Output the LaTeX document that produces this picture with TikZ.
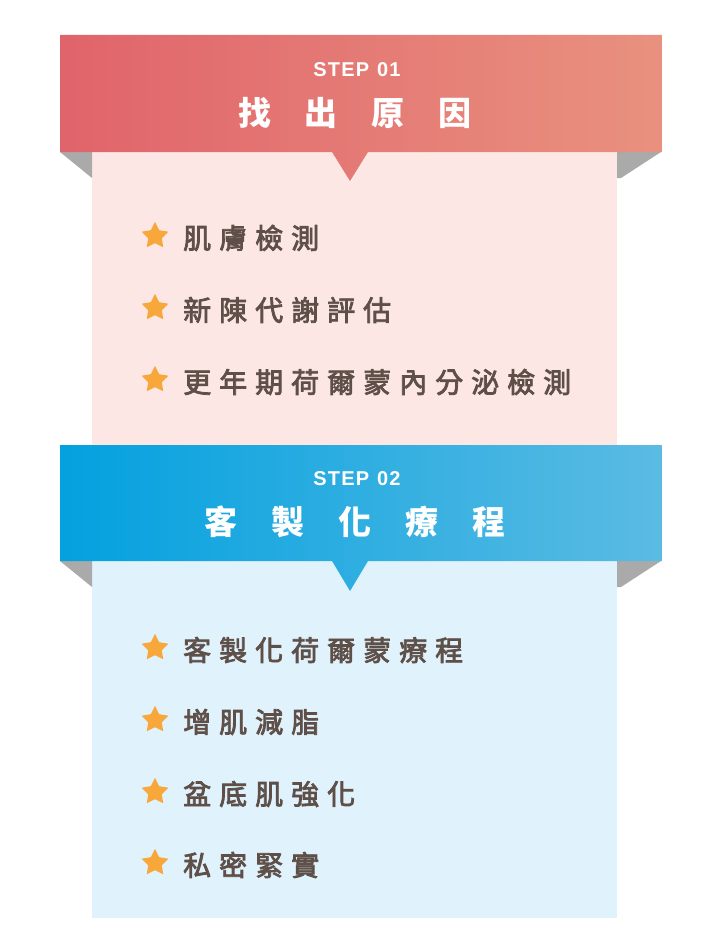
\documentclass[tikz,border=0pt]{standalone}
\usepackage{fontspec}
\setmainfont{Liberation Sans}
\newfontfamily\cjk{Noto Sans CJK TC}
\usetikzlibrary{shapes.geometric}
\definecolor{redL}{HTML}{E0646B}
\definecolor{redR}{HTML}{E9917F}
\definecolor{pinkbg}{HTML}{FCE7E5}
\definecolor{blueL}{HTML}{03A1DF}
\definecolor{blueR}{HTML}{5BBBE3}
\definecolor{bluebg}{HTML}{E0F2FB}
\definecolor{foldgray}{HTML}{AAAAAA}
\definecolor{txtc}{HTML}{5E5049}
\definecolor{starc}{HTML}{F8A73A}
\newlength\lsgap
\def\spacedtext#1{\spacedA#1\relax}
\def\spacedA#1{\ifx#1\relax\else #1\expandafter\spacedB\fi}
\def\spacedB#1{\ifx#1\relax\else\kern\lsgap #1\expandafter\spacedB\fi}
\newcommand\heavier[1]{\special{pdf:literal direct 2 Tr 0.8 w}#1\special{pdf:literal direct 0 Tr}}
\tikzset{
  staricon/.style={star, star points=5, star point ratio=1.95, fill=starc, draw=none, minimum size=28pt, inner sep=0pt},
  itemtext/.style={anchor=west, inner sep=0pt, text=txtc, font=\cjk\fontsize{28}{28}\selectfont\setlength\lsgap{8pt}},
  steptext/.style={inner sep=0pt, text=white, font=\bfseries\fontsize{20}{20}\selectfont\setlength\lsgap{1.2pt}},
  titletext/.style={inner sep=0pt, text=white, font=\cjk\bfseries\fontsize{33}{33}\selectfont\setlength\lsgap{34pt}},
}
\begin{document}
\begin{tikzpicture}[x=1pt,y=-1pt]
\useasboundingbox (0,0) rectangle (720,950);
% ---------- STEP 01 ----------
\fill[pinkbg] (92,152) rectangle (617,445);
\fill[foldgray] (60,152) -- (92,152) -- (92,178) -- cycle;
\fill[foldgray] (617,152) -- (661,152) -- (621,178) -- (617,178) -- cycle;
\shade[left color=redL, right color=redR] (60,35) -- (662,35) -- (662,152) -- (368,152) -- (350,181) -- (332,152) -- (60,152) -- cycle;
\node[steptext] (s1) at (357,70) {\spacedtext{STEP\ 01}};
\node[titletext] (t1) at (355,113) {\spacedtext{找出原因}};
\node[staricon] (st11) at (155,236) {};
\node[itemtext] (i11) at (183,238) {\heavier{\spacedtext{肌膚檢測}}};
\node[staricon] (st12) at (155,308) {};
\node[itemtext] (i12) at (183,310) {\heavier{\spacedtext{新陳代謝評估}}};
\node[staricon] (st13) at (155,380) {};
\node[itemtext] (i13) at (183,382) {\heavier{\spacedtext{更年期荷爾蒙內分泌檢測}}};
% ---------- STEP 02 ----------
\fill[bluebg] (92,561) rectangle (617,918);
\fill[foldgray] (60,561) -- (92,561) -- (92,587) -- cycle;
\fill[foldgray] (617,561) -- (661,561) -- (621,587) -- (617,587) -- cycle;
\shade[left color=blueL, right color=blueR] (60,445) -- (662,445) -- (662,561) -- (368,561) -- (350,591) -- (332,561) -- (60,561) -- cycle;
\node[steptext] (s2) at (357,479) {\spacedtext{STEP\ 02}};
\node[titletext] (t2) at (355,522) {\spacedtext{客製化療程}};
\node[staricon] (st21) at (155,648) {};
\node[itemtext] (i21) at (183,650) {\heavier{\spacedtext{客製化荷爾蒙療程}}};
\node[staricon] (st22) at (155,720) {};
\node[itemtext] (i22) at (183,722) {\heavier{\spacedtext{增肌減脂}}};
\node[staricon] (st23) at (155,792) {};
\node[itemtext] (i23) at (183,794) {\heavier{\spacedtext{盆底肌強化}}};
\node[staricon] (st24) at (155,863) {};
\node[itemtext] (i24) at (183,865) {\heavier{\spacedtext{私密緊實}}};
\end{tikzpicture}
\end{document}
